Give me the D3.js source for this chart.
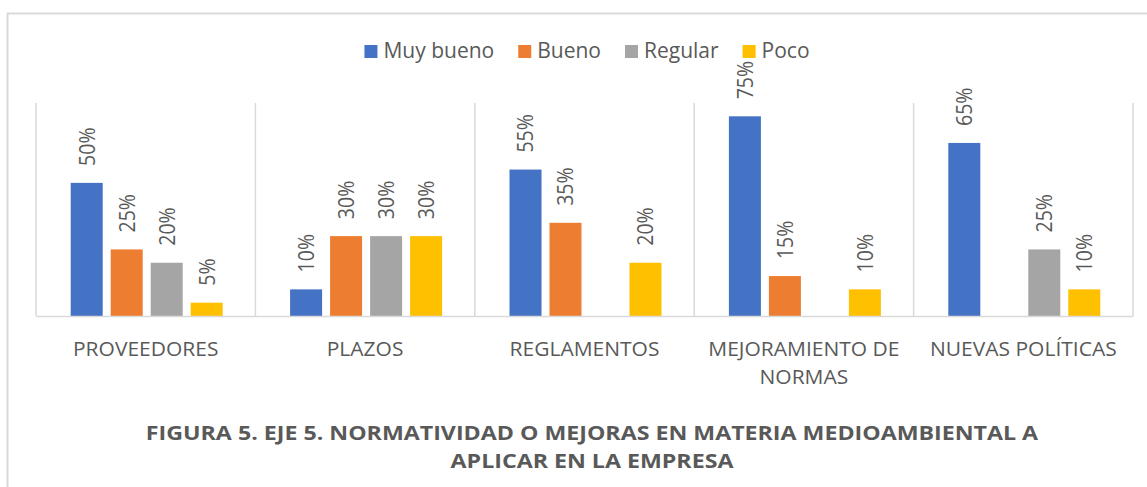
<!DOCTYPE html>
<html>
<head>
<meta charset="utf-8">
<script src="https://cdn.jsdelivr.net/npm/d3@7"></script>
<style>
body { margin: 0; background: #fff; }
text { font-family: 'Open Sans', sans-serif; fill: #595959; }
</style>
</head>
<body>
<script>
// data
var categories = ["PROVEEDORES", "PLAZOS", "REGLAMENTOS", "MEJORAMIENTO DE NORMAS", "NUEVAS POLÍTICAS"];
var seriesNames = ["Muy bueno", "Bueno", "Regular", "Poco"];
var muyBueno = [0.50, 0.10, 0.55, 0.75, 0.65];
var bueno = [0.25, 0.30, 0.35, 0.15, null];
var regular = [0.20, 0.30, null, null, 0.25];
var poco = [0.05, 0.30, 0.20, 0.10, 0.10];
var colors = ["#4472C4", "#ED7D31", "#A5A5A5", "#FFC000"];
var titleLines = ["FIGURA 5. EJE 5. NORMATIVIDAD O MEJORAS EN MATERIA MEDIOAMBIENTAL A", "APLICAR EN LA EMPRESA"];

var width = 1147, height = 487;
var values = [muyBueno, bueno, regular, poco];

var svg = d3.select("body").append("svg")
  .attr("width", width)
  .attr("height", height);

// chart frame
svg.append("rect")
  .attr("x", 7.5).attr("y", 13.5)
  .attr("width", 1170).attr("height", 500)
  .attr("fill", "none")
  .attr("stroke", "#D9D9D9")
  .attr("stroke-width", 2);

var x = d3.scaleBand().domain(categories).range([36, 1133]).padding(0);
var xs = d3.scaleBand().domain(seriesNames).range([-75, 77]).paddingInner(0.2);
var y = d3.scaleLinear().domain([0, 0.8]).range([316, 103]);

// separators between categories
var edges = categories.map(function(c) { return x(c); }).concat([x.range()[1]]);
svg.append("g").selectAll("line")
  .data(edges)
  .enter().append("line")
  .attr("x1", function(d) { return d; })
  .attr("x2", function(d) { return d; })
  .attr("y1", y(0.8))
  .attr("y2", y(0))
  .attr("stroke", "#D9D9D9")
  .attr("stroke-width", 1.5);

// bars
var rows = [];
categories.forEach(function(c, i) {
  seriesNames.forEach(function(s, j) {
    if (values[j][i] != null) rows.push({cat: c, s: s, j: j, v: values[j][i]});
  });
});

var bars = svg.append("g");
bars.selectAll("rect")
  .data(rows)
  .enter().append("rect")
  .attr("x", function(d) { return x(d.cat) + x.bandwidth() / 2 + xs(d.s); })
  .attr("y", function(d) { return y(d.v); })
  .attr("width", xs.bandwidth())
  .attr("height", function(d) { return y(0) - y(d.v); })
  .attr("fill", function(d) { return colors[d.j]; });

// rotated value labels
bars.selectAll("text")
  .data(rows)
  .enter().append("text")
  .attr("transform", function(d) {
    var cx = x(d.cat) + x.bandwidth() / 2 + xs(d.s) + xs.bandwidth() / 2;
    return "translate(" + cx + "," + (y(d.v) - 17) + ") scale(1.12,1) rotate(-90)";
  })
  .attr("dy", "0.36em")
  .style("font-size", "19.5px")
  .text(function(d) { return d3.format(".0%")(d.v); });

// category axis
var xAxis = svg.append("g")
  .attr("transform", "translate(0," + y(0) + ")")
  .call(d3.axisBottom(x).tickSize(0).tickSizeOuter(0));
xAxis.select(".domain").attr("stroke", "#D9D9D9").attr("stroke-width", 1.5);
xAxis.selectAll("text")
  .style("font-size", "20px")
  .style("fill", "#595959")
  .attr("font-family", null)
  .attr("transform", "scale(1.05,1)")
  .each(function(d) { wrap(d3.select(this), d, 200); });

function wrap(t, label, w) {
  var words = label.split(" "), line = [], lines = [];
  t.text(null).attr("dy", null).attr("y", 0);
  var ts = t.append("tspan").attr("x", 0).attr("y", 40);
  words.forEach(function(word) {
    line.push(word);
    ts.text(line.join(" "));
    if (ts.node().getComputedTextLength() > w && line.length > 1) {
      line.pop();
      lines.push(line.join(" "));
      line = [word];
    }
  });
  lines.push(line.join(" "));
  t.text(null);
  lines.forEach(function(l, k) {
    t.append("tspan").attr("x", 0).attr("y", 40 + k * 28).text(l);
  });
}

// legend
var legend = svg.append("g");
var items = legend.selectAll("g")
  .data(seriesNames)
  .enter().append("g");
items.append("rect")
  .attr("width", 13).attr("height", 13)
  .attr("y", 45)
  .attr("fill", function(d, i) { return colors[i]; });
items.append("text")
  .attr("x", 19)
  .attr("y", 58)
  .style("font-size", "21px")
  .text(function(d) { return d; });
var pos = 0, offsets = [];
items.each(function() {
  offsets.push(pos);
  pos += 19 + d3.select(this).select("text").node().getComputedTextLength() + 24;
});
var total = pos - 24;
var start = 587 - total / 2;
items.attr("transform", function(d, i) { return "translate(" + (start + offsets[i]) + ",0)"; });

// title
svg.append("g").selectAll("text")
  .data(titleLines)
  .enter().append("text")
  .attr("transform", function(d, i) { return "translate(592," + (440 + i * 28) + ") scale(1.16,1)"; })
  .attr("text-anchor", "middle")
  .style("font-size", "20px")
  .style("font-weight", "bold")
  .text(function(d) { return d; });
</script>
</body>
</html>
